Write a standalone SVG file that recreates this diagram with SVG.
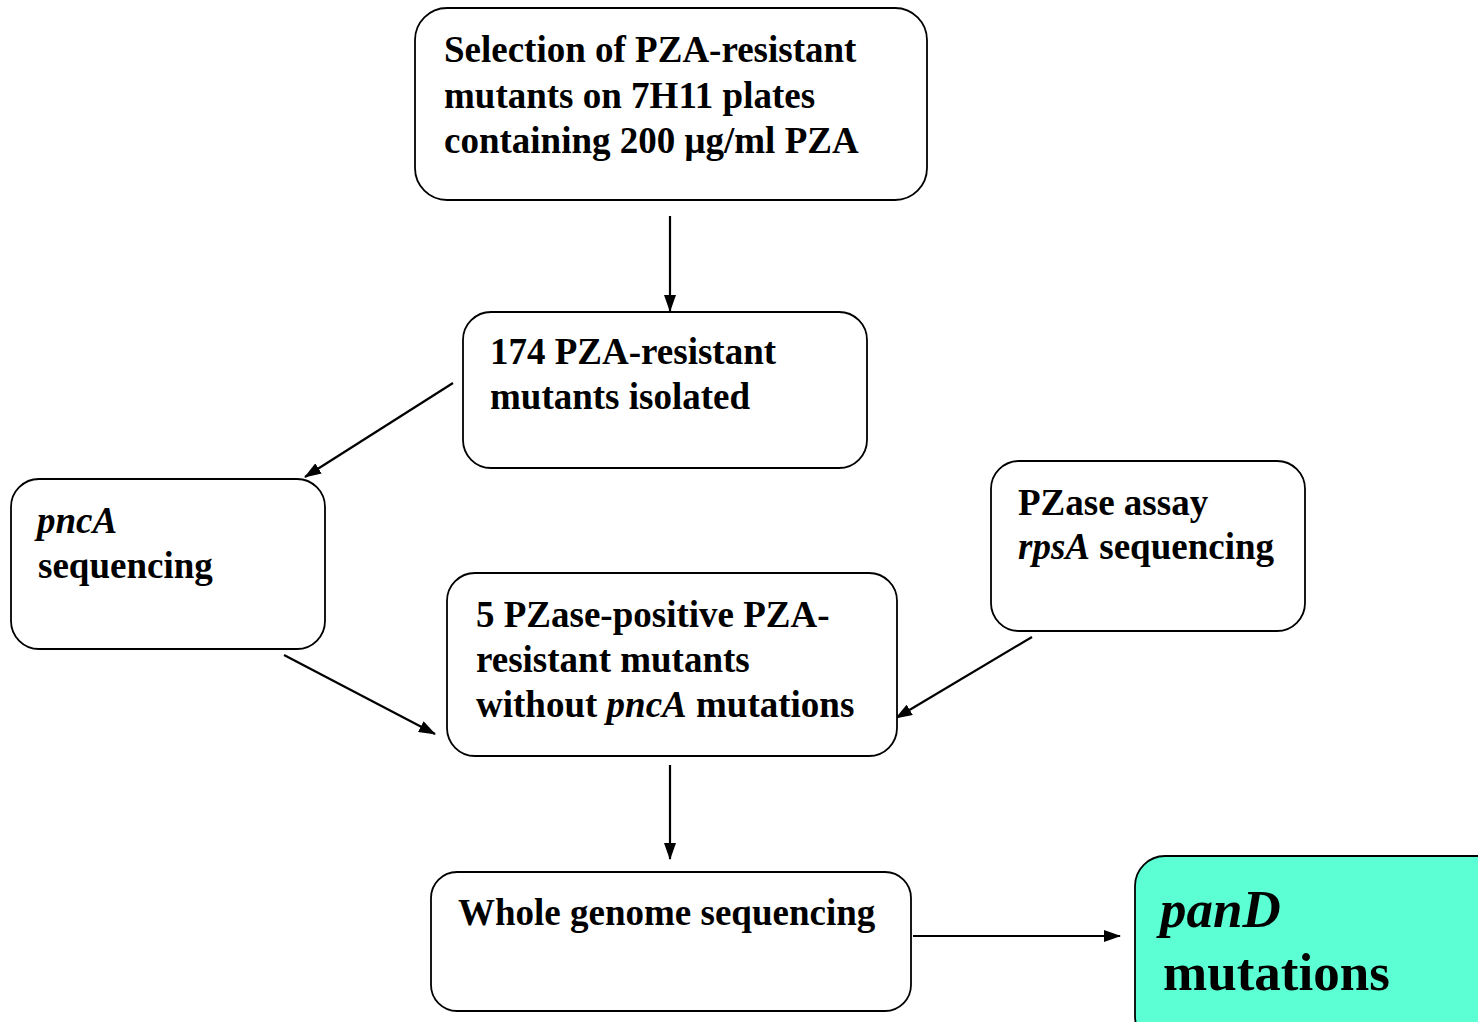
<svg xmlns="http://www.w3.org/2000/svg" width="1478" height="1022" viewBox="0 0 1478 1022">
<style>
.box{fill:#fff;stroke:#000;stroke-width:1.8}
.hl{fill:#5CFFD4;stroke:#000;stroke-width:1.8}
.t{font-family:"Liberation Serif","Times New Roman",serif;font-weight:bold;font-size:37px;fill:#000}
.big{font-size:53px}
.c{stroke:#000;stroke-width:2.2;fill:none;marker-end:url(#ah)}
</style>
<defs>
<marker id="ah" viewBox="0 0 17 12" refX="16" refY="6" markerWidth="17" markerHeight="12" markerUnits="userSpaceOnUse" orient="auto">
<path d="M0,0 L17,6 L0,12 z" fill="#000"/>
</marker>
</defs>
<rect width="1478" height="1022" fill="#fff"/>
<g id="connectors">
<line class="c" x1="670" y1="216" x2="670" y2="311"/>
<line class="c" x1="453" y1="383" x2="305" y2="477"/>
<line class="c" x1="284" y1="655" x2="435" y2="734"/>
<line class="c" x1="1032" y1="637" x2="896" y2="718"/>
<line class="c" x1="670" y1="765" x2="670" y2="859"/>
<line class="c" x1="913" y1="936" x2="1120" y2="936"/>
</g>
<g id="n1">
<rect class="box" x="415" y="8" width="512" height="192" rx="32"/>
<text class="t" x="444" y="62">Selection of PZA-resistant</text>
<text class="t" x="444" y="108">mutants on 7H11 plates</text>
<text class="t" x="444" y="153">containing 200 μg/ml PZA</text>
</g>
<g id="n2">
<rect class="box" x="463" y="312" width="404" height="156" rx="28"/>
<text class="t" x="490" y="364">174 PZA-resistant</text>
<text class="t" x="490" y="409">mutants isolated</text>
</g>
<g id="n3">
<rect class="box" x="11" y="479" width="314" height="170" rx="28"/>
<text class="t" x="37" y="533"><tspan font-style="italic">pncA</tspan></text>
<text class="t" x="38" y="578">sequencing</text>
</g>
<g id="n4">
<rect class="box" x="447" y="573" width="450" height="183" rx="28"/>
<text class="t" x="476" y="627">5 PZase-positive PZA-</text>
<text class="t" x="476" y="672">resistant mutants</text>
<text class="t" x="476" y="717">without <tspan font-style="italic">pncA</tspan> mutations</text>
</g>
<g id="n5">
<rect class="box" x="991" y="461" width="314" height="170" rx="28"/>
<text class="t" x="1018" y="515">PZase assay</text>
<text class="t" x="1018" y="559"><tspan font-style="italic">rpsA</tspan> sequencing</text>
</g>
<g id="n6">
<rect class="box" x="431" y="872" width="480" height="139" rx="26"/>
<text class="t" x="458" y="925">Whole genome sequencing</text>
</g>
<g id="n7">
<rect class="hl" x="1135" y="856" width="380" height="190" rx="30"/>
<text class="t big" x="1160" y="927"><tspan font-style="italic">panD</tspan></text>
<text class="t big" x="1163" y="990">mutations</text>
</g>
</svg>
